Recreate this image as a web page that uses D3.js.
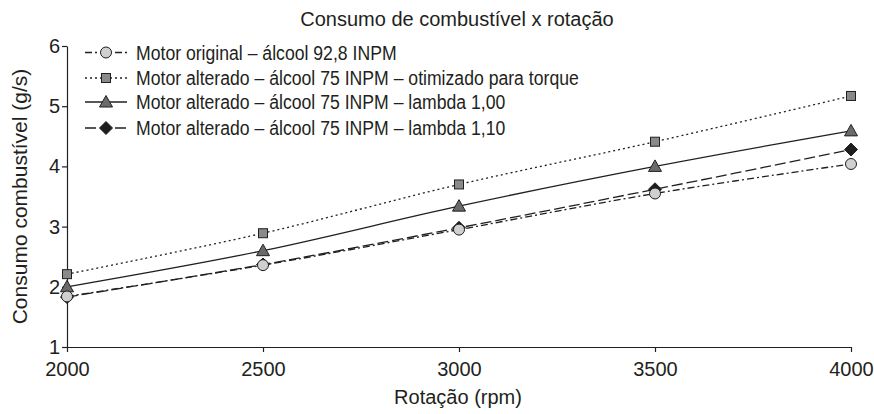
<!DOCTYPE html>
<head>
<meta charset="utf-8">
<style>
body { margin: 0; background: #fff; }
svg { font-family: "Liberation Sans", Arial, sans-serif; }
.axis path, .axis line { stroke: #231f20; stroke-width: 1.2px; }
.axis text { fill: #231f20; font-size: 20px; }
.serie { fill: none; stroke: #231f20; stroke-width: 1.3px; }
.legenda text { fill: #231f20; font-size: 21px; }
</style>
<script src="https://d3js.org/d3.v7.min.js"></script>
</head>
<body>
<svg width="874" height="414"></svg>
<script>

// rotação (rpm)
var rotacoes = [2000, 2500, 3000, 3500, 4000];

// consumo (g/s)
var motorOriginal   = [1.84, 2.36, 2.95, 3.55, 4.04];
var otimizadoTorque = [2.21, 2.89, 3.70, 4.41, 5.17];
var lambda100       = [2.00, 2.60, 3.34, 4.00, 4.59];
var lambda110       = [1.83, 2.37, 2.98, 3.62, 4.28];

var nomes = [
  "Motor original – álcool 92,8 INPM",
  "Motor alterado – álcool 75 INPM – otimizado para torque",
  "Motor alterado – álcool 75 INPM – lambda 1,00",
  "Motor alterado – álcool 75 INPM – lambda 1,10"
];

var yTicks = [1, 2, 3, 4, 5, 6];

var series = [
  {nome: nomes[0], valores: motorOriginal,   dash: "7,3,2,3", marca: "circle",   fill: "#d0d0d0"},
  {nome: nomes[1], valores: otimizadoTorque, dash: "2,3",     marca: "square",   fill: "#8a8a8a"},
  {nome: nomes[2], valores: lambda100,       dash: null,      marca: "triangle", fill: "#6a6a6a"},
  {nome: nomes[3], valores: lambda110,       dash: "11,4",    marca: "diamond",  fill: "#1e1e1e"}
];

var svg = d3.select("svg"),
    margin = {top: 46, right: 23, bottom: 67, left: 67},
    width = svg.attr("width") - margin.left - margin.right,
    height = svg.attr("height") - margin.top - margin.bottom,
    g = svg.append("g").attr("transform", "translate(" + margin.left + "," + margin.top + ")");

var x = d3.scaleLinear().domain([2000, 4000]).range([0, width]);
var y = d3.scaleLinear().domain([1, 6]).range([height, 0]);

g.append("g")
    .attr("class", "axis axis--x")
    .attr("transform", "translate(0," + height + ")")
    .call(d3.axisBottom(x).tickValues(rotacoes).tickFormat(d3.format("d")).tickSize(5).tickSizeOuter(0).tickPadding(10));

g.append("g")
    .attr("class", "axis axis--y")
    .call(d3.axisLeft(y).tickValues(yTicks).tickFormat(d3.format("d")).tickSize(5).tickSizeOuter(0).tickPadding(2));

// títulos
svg.append("text")
    .attr("x", 457).attr("y", 19)
    .attr("text-anchor", "middle").attr("dy", "0.35em")
    .style("font-size", "20px").style("fill", "#231f20")
    .text("Consumo de combustível x rotação");

svg.append("text")
    .attr("x", 458).attr("y", 397)
    .attr("text-anchor", "middle").attr("dy", "0.35em")
    .style("font-size", "20px").style("fill", "#231f20")
    .text("Rotação (rpm)");

svg.append("text")
    .attr("transform", "translate(20," + (margin.top + height / 2) + ") rotate(-90)")
    .attr("text-anchor", "middle").attr("dy", "0.35em")
    .style("font-size", "21px").style("fill", "#231f20")
    .text("Consumo combustível (g/s)");

var line = d3.line()
    .x(function(d, i) { return x(rotacoes[i]); })
    .y(function(d) { return y(d); })
    .curve(d3.curveCatmullRom.alpha(0.5));

function marcador(sel, tipo, fill) {
  var p;
  if (tipo == "circle") p = sel.append("circle").attr("r", 5.5);
  else if (tipo == "square") p = sel.append("rect").attr("x", -4.5).attr("y", -4.5).attr("width", 9).attr("height", 9);
  else if (tipo == "triangle") p = sel.append("path").attr("d", "M0,-6.5L6.5,5L-6.5,5Z");
  else p = sel.append("path").attr("d", "M0,-6.5L6.5,0L0,6.5L-6.5,0Z");
  p.attr("fill", fill).attr("stroke", "#231f20").attr("stroke-width", 1);
}

// linhas
g.selectAll(".serie")
  .data(series)
  .enter().append("path")
    .attr("class", "serie")
    .attr("stroke-dasharray", function(d) { return d.dash; })
    .attr("d", function(d) { return line(d.valores); });

// marcadores (ordem inversa para o círculo ficar por cima)
series.slice().reverse().forEach(function(s) {
  g.append("g").selectAll("g")
    .data(s.valores)
    .enter().append("g")
      .attr("transform", function(d, i) { return "translate(" + x(rotacoes[i]) + "," + y(d) + ")"; })
      .each(function() { marcador(d3.select(this), s.marca, s.fill); });
});

// legenda
var leg = svg.append("g").attr("class", "legenda");
var linhaLeg = [52.5, 78, 102, 128];

series.forEach(function(s, i) {
  var row = leg.append("g").attr("transform", "translate(0," + linhaLeg[i] + ")");
  row.append("line")
      .attr("x1", 85).attr("x2", 127)
      .attr("stroke", "#231f20").attr("stroke-width", 1.3)
      .attr("stroke-dasharray", s.dash);
  var m = row.append("g").attr("transform", "translate(106,0)");
  marcador(m, s.marca, s.fill);
  row.append("text")
      .attr("transform", "translate(136,0) scale(0.84,1)")
      .attr("dy", "0.35em")
      .text(s.nome);
});

</script>
</body>
</html>
